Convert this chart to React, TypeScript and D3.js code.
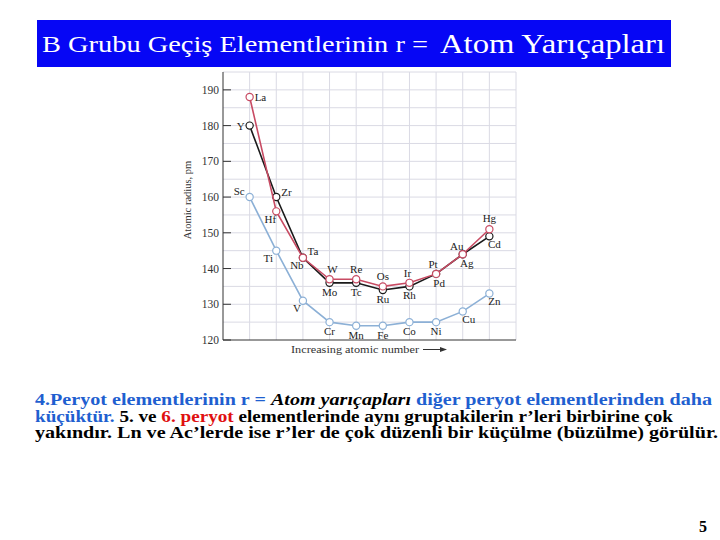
import React from "react";
import { scaleLinear, line } from "d3";

// 4th, 5th, 6th period transition metals, left to right across the row
const period4 = ["Sc", "Ti", "V", "Cr", "Mn", "Fe", "Co", "Ni", "Cu", "Zn"];
const radius4 = [160, 145, 131, 125, 124, 124, 125, 125, 128, 133];
const period5 = ["Y", "Zr", "Nb", "Mo", "Tc", "Ru", "Rh", "Pd", "Ag", "Cd"];
const radius5 = [180, 160, 143, 136, 136, 134, 135, 138.5, 144, 149];
const period6 = ["La", "Hf", "Ta", "W", "Re", "Os", "Ir", "Pt", "Au", "Hg"];
const radius6 = [188, 156, 143, 137, 137, 135, 136, 138.5, 144, 151];
const yTicks = [120, 130, 140, 150, 160, 170, 180, 190];

// label placement relative to its point: [dx, dy, anchor]
const labelPos: Record<string, [number, number, string]> = {
  Sc: [-5, -2, "end"], Ti: [-8, 11, "middle"], V: [-6, 11, "middle"], Cr: [0, 13, "middle"],
  Mn: [0, 13, "middle"], Fe: [0, 13, "middle"], Co: [0, 13, "middle"], Ni: [0, 13, "middle"],
  Cu: [6, 12, "middle"], Zn: [5, 11, "middle"],
  Y: [-5, 4, "end"], Zr: [5, -1, "start"], Nb: [-6, 11, "middle"], Mo: [0, 13, "middle"],
  Tc: [0, 13, "middle"], Ru: [0, 13, "middle"], Rh: [0, 13, "middle"], Pd: [3, 13, "middle"],
  Ag: [4, 13, "middle"], Cd: [5, 12, "middle"],
  La: [5, 4, "start"], Hf: [-6, 12, "middle"], Ta: [10, -3, "middle"], W: [3, -6, "middle"],
  Re: [0, -6, "middle"], Os: [0, -6, "middle"], Ir: [-2, -6, "middle"], Pt: [-3, -6, "middle"],
  Au: [-6, -4, "middle"], Hg: [0, -7, "middle"],
};

const W = 720;
const H = 540;
const plot = { left: 223, right: 516, top: 72, bottom: 340 };

export default function App() {
  const x = scaleLinear().domain([0, 11]).range([plot.left, plot.right]);
  const y = scaleLinear().domain([120, 195]).range([plot.bottom, plot.top]);
  const path = line<number>().x((d, i) => x(i + 1)).y((d) => y(d));

  const series = [
    { names: period4, vals: radius4, color: "#8cb0d6" },
    { names: period5, vals: radius5, color: "#1a1a1a" },
    { names: period6, vals: radius6, color: "#c84b63" },
  ];

  const gridX = [];
  for (let i = 1; i <= 11; i++) gridX.push(i);
  const gridY = [];
  for (let v = 125; v <= 195; v += 5) gridY.push(v);

  const serif = "'Liberation Serif', 'DejaVu Serif', serif";

  return (
    <svg width={W} height={H} style={{ position: "absolute", left: 0, top: 0, background: "#fff" }}>
      {/* title bar */}
      <rect x={37} y={20} width={634} height={47} fill="#0606f5" />
      <text x={42} y={52} fill="#fff" fontFamily={serif} fontSize={24} textLength={386} lengthAdjust="spacingAndGlyphs">
        B Grubu Geçiş Elementlerinin r =
      </text>
      <text x={440} y={53} fill="#fff" fontFamily={serif} fontSize={28} textLength={225} lengthAdjust="spacingAndGlyphs">
        Atom Yarıçapları
      </text>

      {/* grid */}
      <g stroke="#dadae4" strokeWidth={1}>
        {gridX.map((i) => (
          <line key={"gx" + i} x1={x(i)} x2={x(i)} y1={plot.top} y2={plot.bottom} />
        ))}
        {gridY.map((v) => (
          <line key={"gy" + v} x1={plot.left} x2={plot.right} y1={y(v)} y2={y(v)} />
        ))}
      </g>
      {/* axes */}
      <line x1={plot.left} x2={plot.left} y1={plot.top} y2={plot.bottom} stroke="#333" />
      <line x1={plot.left} x2={plot.right} y1={plot.bottom} y2={plot.bottom} stroke="#333" />
      {yTicks.map((t) => (
        <g key={"t" + t}>
          <line x1={plot.left} x2={plot.left + 8} y1={y(t)} y2={y(t)} stroke="#333" />
          <text x={plot.left - 4} y={y(t) + 4} textAnchor="end" fontFamily={serif} fontSize={11.5} fill="#333">
            {t}
          </text>
        </g>
      ))}
      <text
        transform={`translate(191,${(plot.top + plot.bottom) / 2 - 6}) rotate(-90)`}
        textAnchor="middle"
        fontFamily={serif}
        fontSize={10.5}
        fill="#333"
      >
        Atomic radius, pm
      </text>
      <text x={291} y={353} fontFamily={serif} fontSize={11} fill="#333" textLength={128} lengthAdjust="spacingAndGlyphs">
        Increasing atomic number
      </text>
      <line x1={423} x2={441} y1={349.5} y2={349.5} stroke="#333" />
      <path d="M440,347 L447,349.5 L440,352 Z" fill="#333" />

      {/* series */}
      {series.map((s, si) => (
        <g key={"s" + si}>
          <path d={path(s.vals) || ""} fill="none" stroke={s.color} strokeWidth={1.6} />
          {s.vals.map((v, i) => (
            <circle key={i} cx={x(i + 1)} cy={y(v)} r={3.6} fill="#fff" stroke={s.color} strokeWidth={1.2} />
          ))}
        </g>
      ))}
      {series.map((s, si) =>
        s.names.map((n, i) => {
          const p = labelPos[n];
          return (
            <text
              key={"l" + si + n}
              x={x(i + 1) + p[0]}
              y={y(s.vals[i]) + p[1]}
              textAnchor={p[2]}
              fontFamily={serif}
              fontSize={11}
              fill="#222"
            >
              {n}
            </text>
          );
        })
      )}

      {/* body text */}
      <g fontFamily={serif} fontSize={16} fontWeight="bold">
        <text x={35} y={405} textLength={677} lengthAdjust="spacingAndGlyphs">
          <tspan fill="#1f5fd0">4.Peryot elementlerinin r = </tspan>
          <tspan fill="#000" fontStyle="italic">Atom yarıçapları</tspan>
          <tspan fill="#1f5fd0"> diğer peryot elementlerinden daha</tspan>
        </text>
        <text x={35} y={421.5} textLength={638} lengthAdjust="spacingAndGlyphs">
          <tspan fill="#1f5fd0">küçüktür.</tspan>
          <tspan fill="#000"> 5. ve </tspan>
          <tspan fill="#e01010">6. peryot</tspan>
          <tspan fill="#000"> elementlerinde aynı gruptakilerin r’leri birbirine çok</tspan>
        </text>
        <text x={35} y={438} textLength={683} lengthAdjust="spacingAndGlyphs" fill="#000">
          yakındır. Ln ve Ac’lerde ise r’ler de çok düzenli bir küçülme (büzülme) görülür.
        </text>
      </g>
      <text x={699} y={532} fontFamily={serif} fontSize={16} fontWeight="bold">
        5
      </text>
    </svg>
  );
}
